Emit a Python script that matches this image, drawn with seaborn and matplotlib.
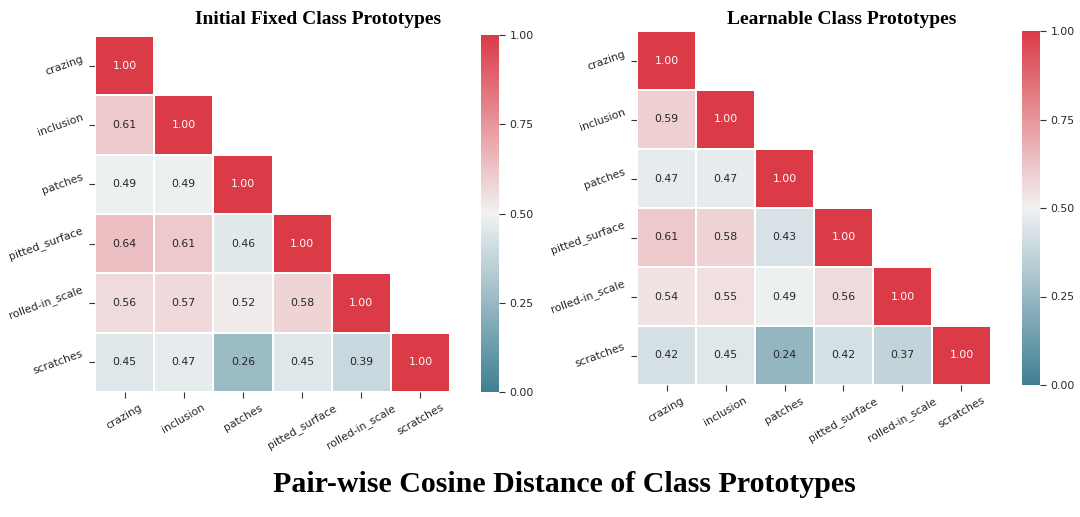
import numpy as np
import pandas as pd
import matplotlib
matplotlib.use("Agg")
import matplotlib.pyplot as plt
import seaborn as sns

classes = ["crazing", "inclusion", "patches", "pitted_surface", "rolled-in_scale", "scratches"]

initial_rows = [
    [1.00],
    [0.61, 1.00],
    [0.49, 0.49, 1.00],
    [0.64, 0.61, 0.46, 1.00],
    [0.56, 0.57, 0.52, 0.58, 1.00],
    [0.45, 0.47, 0.26, 0.45, 0.39, 1.00],
]
learnable_rows = [
    [1.00],
    [0.59, 1.00],
    [0.47, 0.47, 1.00],
    [0.61, 0.58, 0.43, 1.00],
    [0.54, 0.55, 0.49, 0.56, 1.00],
    [0.42, 0.45, 0.24, 0.42, 0.37, 1.00],
]
cbar_ticks = [0.0, 0.25, 0.5, 0.75, 1.0]

title_left = "Initial Fixed Class Prototypes"
title_right = "Learnable Class Prototypes"
suptitle = "Pair-wise Cosine Distance of Class Prototypes"


def to_matrix(rows):
    n = len(classes)
    m = np.full((n, n), np.nan)
    for i, r in enumerate(rows):
        for j, v in enumerate(r):
            m[i, j] = v
            m[j, i] = v
    return pd.DataFrame(m, index=classes, columns=classes)


sns.set_style("ticks")
plt.rcParams["font.family"] = ["DejaVu Sans"]

W, H = 1080, 517
fig = plt.figure(figsize=(W / 100, H / 100), dpi=100)


def px(l, t, r, b):
    return [l / W, 1 - b / H, (r - l) / W, (b - t) / H]


cmap = sns.diverging_palette(220, 10, as_cmap=True)
mask = np.triu(np.ones((6, 6), dtype=bool), k=1)

panels = [
    (initial_rows, px(95, 36, 450, 392), px(481, 35, 499, 392)),
    (learnable_rows, px(637, 31, 991, 385), px(1022, 31, 1040, 385)),
]

for rows, hpos, cpos in panels:
    ax = fig.add_axes(hpos)
    cax = fig.add_axes(cpos)
    df = to_matrix(rows)
    sns.heatmap(df, mask=mask, cmap=cmap, vmin=0, vmax=1, center=0.5,
                annot=True, fmt=".2f", annot_kws={"size": 7.8},
                linewidths=0.3, linecolor="white",
                ax=ax, cbar_ax=cax, cbar_kws={"ticks": cbar_ticks, "format": "%.2f"})
    ax.set_xticklabels(ax.get_xticklabels(), rotation=30, fontsize=7.8)
    ax.set_yticklabels(ax.get_yticklabels(), rotation=20, fontsize=7.8)
    ax.tick_params(length=4, width=0.8, color="0.2")
    cax.tick_params(labelsize=7.8, length=4, width=0.8, color="0.2")

serif = ["Liberation Serif", "DejaVu Serif"]
fig.text(318 / W, 1 - 20 / H, title_left, ha="center", va="center",
         fontsize=14, fontweight="bold", family=serif, color="black")
fig.text(842 / W, 1 - 20 / H, title_right, ha="center", va="center",
         fontsize=14, fontweight="bold", family=serif, color="black")
fig.text(564 / W, 1 - 484 / H, suptitle, ha="center", va="center",
         fontsize=21.5, fontweight="bold", family=serif, color="black")

fig.savefig("out.png", dpi=100)
